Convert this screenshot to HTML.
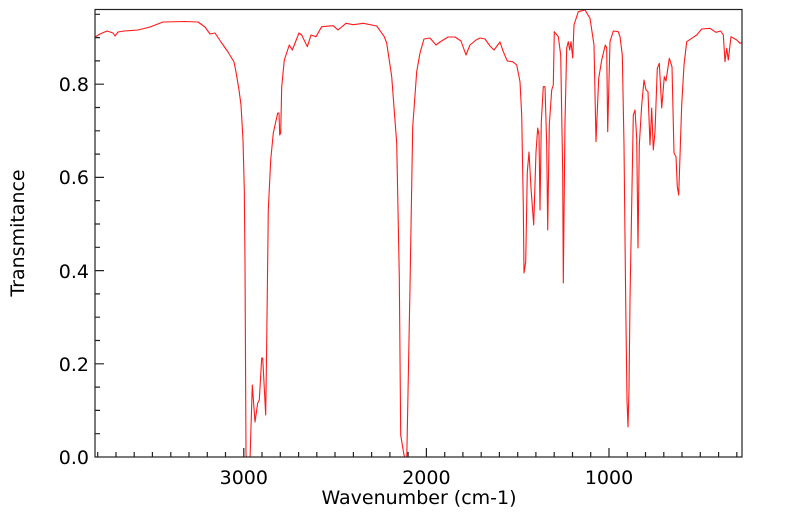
<!DOCTYPE html>
<html><head><meta charset="utf-8"><style>
body{margin:0;background:#fff;}
svg{display:block;font-family:"DejaVu Sans","Liberation Sans",sans-serif;}
</style></head><body>
<svg width="799" height="516" viewBox="0 0 799 516">
<defs><clipPath id="c"><rect x="95" y="9.5" width="647" height="447.5"/></clipPath></defs>
<g clip-path="url(#c)">
<polyline fill="none" stroke="#ff1a1a" stroke-width="1.1" stroke-linejoin="round" points="
95,37 100,34 107,31 113,33 115,36 118,32 124,31 138,30 150,27 163,22 185,21.5 198,22 205,27 210,34 215,33 221,42 228,52 234,62 236,72 239,90 241,105 243,140 244.3,190 245,263 246,455 248,462 250,460 252.3,385 255,422 257.7,403 259.3,400 261.7,358 262.7,358 265.7,415 266.7,343 268.3,210 270.7,160 273.3,133 277.7,113 279,113 279.7,135 280.7,133 281.7,87 284.3,60 289.3,45 292.3,50 299,33 301.7,35 307.3,46.7 311,35 316,36.7 321.7,26.7 333.3,25.7 338,30 346,23.3 353.3,24.7 363.3,23.3 376.7,26 384.3,36.7 386.7,43 391.7,76.7 396.7,143 399.3,277 400.7,435 404,455 406.7,462 410,287 412.7,127 416.7,71.7 420,53 424,39 430,38 436,45 440,42 448,37 455,37 461,41 466,55 470,45 476,40 480,38 485,39 490,46 494,50 500,42 503.3,51.7 507.3,61 512.7,61.7 516.7,65 520,81.7 521.7,115 523.3,205 524,273 525.7,262 527.3,172 529,152 531,188 533.7,225 536,152 537.7,128 539,135 540,210 541.3,122 543.3,86.7 545,86.7 546.7,145 547.7,230 549.3,125 551.7,90 553.3,85 554.3,31.7 558.3,36.7 560.7,55 562.7,172 563.3,283 565,122 566.7,48 568.3,41.7 569.7,50 571,41.7 572.7,58 574,25 578.3,11.7 585,10 590,18.3 594,45 596,141.7 598.7,78.3 601.7,60 605.3,45 606.7,48 607.7,131.7 610,41.7 613.3,31 618.3,31.7 620,36.7 622.3,55 624,145 625.7,301.7 627,400 628,427 629,390 630,300 631.7,205 633.3,115 635,110 636.7,138 638,248 639.3,145 641.7,105 644,80 646,90 648,91.7 650,145 651.7,108 653.3,150 655,131.7 657.3,68.3 659.3,63.3 661.7,108 664.3,76.7 666,81 669.3,58.3 672,66.7 674,153 676,156.7 677.3,186.7 678.7,195 681.7,105 684,65 686.7,41.7 691.7,38.3 696.7,35 701.7,29 710,28.3 716,32.3 720.7,31 723.3,35 725,61.7 726.7,48.3 728.3,60 731,36.7 736.7,40 740,43.3 744,42"/>
</g>
<rect x="95" y="9.5" width="647" height="447.5" fill="none" stroke="#222" stroke-width="1.2"/>
<path stroke="#222" stroke-width="1.2" fill="none" d="
M97.7 457v-5 M116 457v-5 M134.2 457v-5 M152.4 457v-5 M170.8 457v-5 M189 457v-5 M207.3 457v-5 M225.5 457v-5 M243.8 457v-9 M262 457v-5 M280.3 457v-5 M298.6 457v-5 M316.8 457v-5 M335 457v-5 M353.4 457v-5 M371.6 457v-5 M389.9 457v-5 M408.1 457v-5 M426.4 457v-9 M444.7 457v-5 M462.9 457v-5 M481.2 457v-5 M499.4 457v-5 M517.7 457v-5 M535.9 457v-5 M554.2 457v-5 M572.5 457v-5 M590.7 457v-5 M609 457v-9 M627.3 457v-5 M645.5 457v-5 M663.8 457v-5 M682 457v-5 M700.3 457v-5 M718.6 457v-5 M736.8 457v-5
M95 433.7h5 M95 410.4h5 M95 387.1h5 M95 363.8h9 M95 340.5h5 M95 317.2h5 M95 293.9h5 M95 270.6h9 M95 247.3h5 M95 224h5 M95 200.7h5 M95 177.4h9 M95 154.1h5 M95 130.8h5 M95 107.5h5 M95 84.2h9 M95 60.9h5 M95 37.6h5 M95 14.3h5"/>
<g font-size="19" fill="#000" text-anchor="end">
<text x="89" y="464">0.0</text>
<text x="89" y="371">0.2</text>
<text x="89" y="278">0.4</text>
<text x="89" y="184">0.6</text>
<text x="89" y="91">0.8</text>
</g>
<g font-size="19" fill="#000" text-anchor="middle">
<text x="243.8" y="484">3000</text>
<text x="426.4" y="484">2000</text>
<text x="609" y="484">1000</text>
<text x="419" y="504">Wavenumber (cm-1)</text>
<text transform="translate(24,233) rotate(-90)">Transmitance</text>
</g>
</svg>
</body></html>
